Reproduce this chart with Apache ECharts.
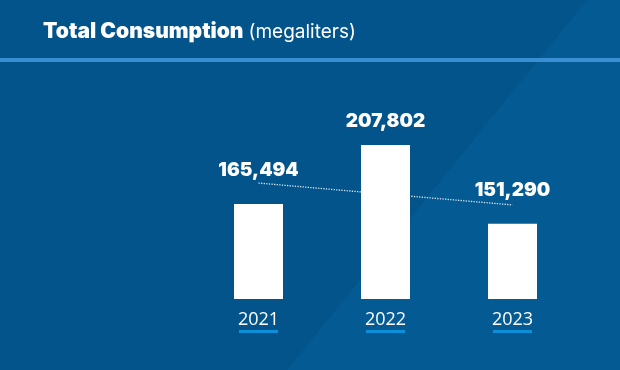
<!DOCTYPE html>
<html><head><meta charset="utf-8">
<script src="https://cdn.jsdelivr.net/npm/echarts@6/dist/echarts.min.js"></script>
<style>html,body{margin:0;padding:0;background:#03548b}#c{width:620px;height:370px}</style>
</head><body><div id="c"></div>
<script>
const categories = ['2021', '2022', '2023'];
const consumption = [165494, 207802, 151290];
const trendLine = [180500, 172600, 164800];
const titleMain = 'Total Consumption';
const titleUnit = '(megaliters)';

const labelDistance = [24, 14, 24];
const chart = echarts.init(document.getElementById('c'), null, {renderer: 'canvas'});
chart.setOption({
  backgroundColor: '#03548b',
  animation: false,
  title: {
    text: '{a|' + titleMain + '} {b|' + titleUnit + '}',
    left: 38, top: 14,
    textStyle: {
      rich: {
        a: {fontFamily: 'Inter', fontWeight: 900, fontSize: 21, lineHeight: 26, color: '#ffffff'},
        b: {fontFamily: 'Inter', fontWeight: 'normal', fontSize: 19, lineHeight: 26, color: '#ffffff'}
      }
    }
  },
  graphic: [
    {type: 'polygon', z: -10, silent: true, shape: {points: [[587, 0], [620, 0], [620, 370], [287, 370]]}, style: {fill: '#045a92'}},
    {type: 'rect', z: -5, silent: true, shape: {x: 0, y: 58, width: 620, height: 4}, style: {fill: '#3a8fd2'}}
  ],
  grid: {left: 195, width: 381, top: 100, height: 199},
  xAxis: {
    type: 'category', data: categories,
    axisLine: {show: false}, axisTick: {show: false},
    axisLabel: {
      margin: 12,
      formatter: v => '{y|' + v + '}\n{u|}',
      rich: {
        y: {fontFamily: 'Open Sans', fontSize: 18, lineHeight: 18, color: '#ffffff'},
        u: {width: 39, height: 3, lineHeight: 5, backgroundColor: '#0a8fd8'}
      }
    }
  },
  yAxis: {type: 'value', min: 97400, max: 240000, show: false, splitLine: {show: false}},
  series: [
    {
      type: 'line', data: trendLine, z: 1, symbol: 'none', silent: true,
      lineStyle: {type: 'dotted', color: 'rgba(255,255,255,0.85)', width: 1.3}
    },
    {
      type: 'bar', data: consumption.map((v, i) => ({value: v, label: {distance: labelDistance[i]}})),
      barWidth: 49, z: 3,
      itemStyle: {color: '#ffffff'},
      label: {
        show: true, position: 'top', color: '#ffffff',
        fontFamily: 'Inter', fontWeight: 900, fontSize: 19,
        formatter: p => p.value.toLocaleString('en-US')
      }
    }
  ]
});
</script></body></html>
